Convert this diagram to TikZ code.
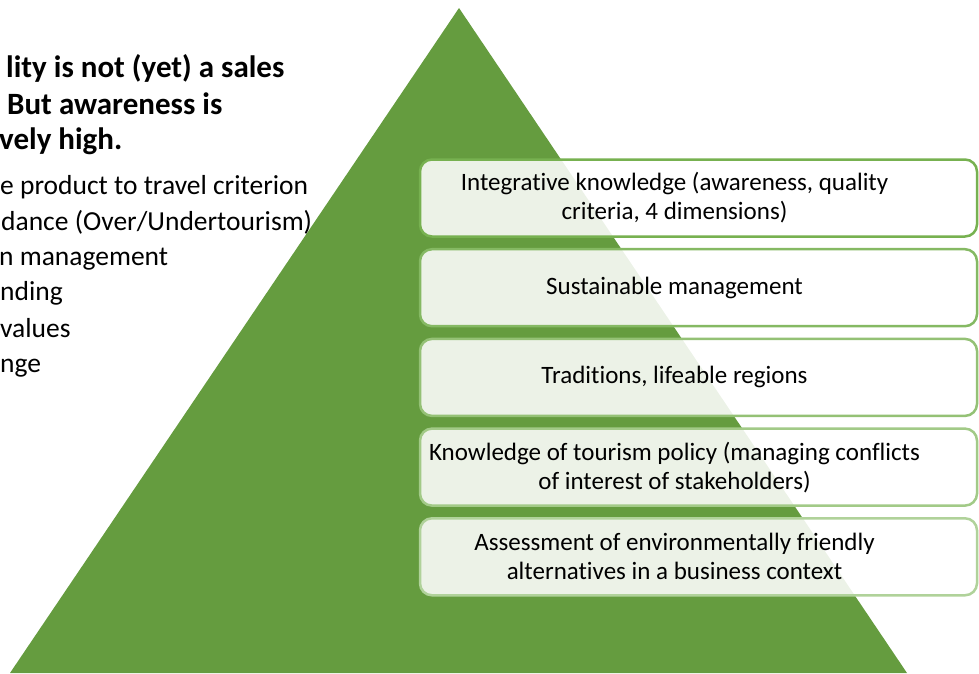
\documentclass[tikz,border=0pt]{standalone}
\usepackage{fontspec}
\setmainfont{Carlito}[Ligatures={NoCommon}]
\usetikzlibrary{positioning}

\definecolor{pyramidgreen}{RGB}{101,156,63}
\definecolor{tierline}{RGB}{112,173,71}

\tikzset{
    tier/.style={draw, line width=2.5pt, rounded corners=12pt, fill=white, fill opacity=0.88, text opacity=1, minimum width=557pt, minimum height=77pt},
    tierlabel/.style={align=center, inner sep=0pt, font=\fontsize{25}{29}\selectfont},
    headline/.style={anchor=base west, inner sep=0pt, font=\fontsize{31}{36}\selectfont\bfseries},
    listline/.style={anchor=base west, inner sep=0pt, font=\fontsize{27.5}{32}\selectfont},
}

\begin{document}
\begin{tikzpicture}[x=1pt, y=-1pt]
    \useasboundingbox (0,0) rectangle (979,673);
    \clip (0,0) rectangle (979,673);

    % pyramid
    \fill[pyramidgreen] (459,8) -- (907,673) -- (10,673) -- cycle;

    % left text
    \node[headline] (h1) at (6,77) {lity is not (yet) a sales};
    \node[headline] (h2) at (7,114) {But awareness is};
    \node[headline] (h3) at (-1,149) {vely high.};

    \node[listline] (l1) at (0,194) {e product to travel criterion};
    \node[listline] (l2) at (1,230) {dance (Over/Undertourism)};
    \node[listline] (l3) at (-1,265) {n management};
    \node[listline] (l4) at (0,300) {nding};
    \node[listline] (l5) at (0,337) {values};
    \node[listline] (l6) at (0,372) {nge};

    % tiers
    \node[tier, draw=tierline!95!white] (t1) at (698.5,198) {};
    \node[tier, draw=tierline!85!white] (t2) at (698.5,287.7) {};
    \node[tier, draw=tierline!75!white] (t3) at (698.5,377.4) {};
    \node[tier, draw=tierline!65!white] (t4) at (698.5,467.1) {};
    \node[tier, draw=tierline!55!white] (t5) at (698.5,556.8) {};

    \node[tierlabel] (k1) at ([xshift=-24pt]t1.center) {Integrative knowledge (awareness, quality\\criteria, 4 dimensions)};
    \node[tierlabel] (k2) at ([xshift=-24pt]t2.center) {Sustainable management};
    \node[tierlabel] (k3) at ([xshift=-24pt]t3.center) {Traditions, lifeable regions};
    \node[tierlabel] (k4) at ([xshift=-24pt]t4.center) {Knowledge of tourism policy (managing conflicts\\of interest of stakeholders)};
    \node[tierlabel] (k5) at ([xshift=-24pt]t5.center) {Assessment of environmentally friendly\\alternatives in a business context};
\end{tikzpicture}
\end{document}
